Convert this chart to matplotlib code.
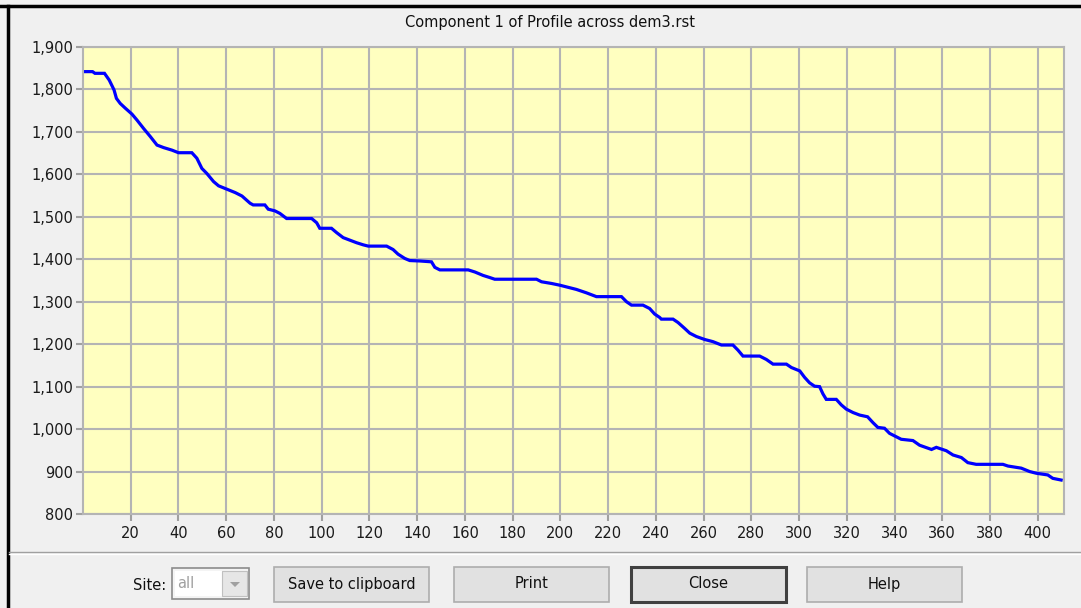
import numpy as np
import matplotlib.pyplot as plt
from matplotlib.patches import Rectangle, Polygon
from matplotlib.lines import Line2D
from matplotlib.ticker import FuncFormatter

plt.rcParams['font.family'] = ['DejaVu Sans']

# profile: distance along the profile / elevation
distance = [1, 4, 5, 9, 11, 13, 14, 15.6, 17.7, 20.5, 22.6, 25.4, 28.2, 31, 33.8,
            37.3, 40, 45.6, 47.7, 49.8, 51.9, 54.7, 56.8, 60.3, 63.8, 66.6, 70,
            71.3, 76.2, 77.6, 80.4, 82.5, 85.3, 95.8, 97.9, 99.2, 104.1, 106.2,
            109, 111.8, 114.6, 117.4, 119.5, 127.2, 129.9, 132, 134.8, 136.9,
            141.1, 146, 147.4, 149.5, 161.4, 164.2, 167.6, 170.4, 172.5, 190,
            192.1, 196.3, 199.7, 202.5, 206.7, 210.9, 212.3, 215.1, 225.6, 227.7,
            229.8, 234.6, 237.4, 239.5, 241.6, 242.3, 247.2, 249.3, 252.1, 254.2,
            257, 260.5, 263.9, 267.5, 272.3, 274.4, 276.5, 283.5, 286.3, 289.1,
            294.7, 296.8, 300.3, 302.3, 304.4, 306.5, 308.6, 310, 311.4, 315.6,
            317.7, 319.8, 322.6, 325.4, 328.7, 331, 333, 335.8, 337.9, 340,
            342.8, 347.7, 350.5, 354, 355.5, 357.5, 361.7, 364.5, 368, 370.7,
            374.2, 385.4, 387.5, 393.1, 396.6, 399.4, 404.2, 406.3, 409.8]
elevation = [1842, 1842, 1838, 1838, 1822, 1799, 1779, 1767, 1756, 1742, 1728, 1708,
             1689, 1669, 1663, 1657, 1651, 1651, 1638, 1614, 1602, 1583, 1573, 1565,
             1557, 1549, 1532, 1528, 1528, 1518, 1514, 1508, 1496, 1496, 1486, 1473,
             1473, 1463, 1451, 1445, 1439, 1434, 1431, 1431, 1423, 1412, 1402, 1397,
             1396, 1394, 1381, 1375, 1375, 1370, 1362, 1357, 1353, 1353, 1347, 1343,
             1339, 1335, 1329, 1321, 1318, 1312, 1312, 1300, 1292, 1292, 1284, 1271,
             1263, 1259, 1259, 1251, 1237, 1226, 1218, 1211, 1206, 1198, 1198, 1186,
             1172, 1172, 1164, 1153, 1153, 1145, 1137, 1122, 1109, 1101, 1100, 1083,
             1070, 1070, 1057, 1047, 1039, 1033, 1029, 1015, 1004, 1002, 990, 984,
             976, 973, 962, 955, 952, 957, 949, 939, 933, 921, 917, 917, 913, 908,
             900, 896, 892, 884, 880]
x_ticks = list(range(20, 401, 20))
y_ticks = list(range(800, 1901, 100))
title = 'Component 1 of Profile across dem3.rst'
buttons = ['Save to clipboard', 'Print', 'Close', 'Help']

W, H = 1081, 608
fig = plt.figure(figsize=(W / 100, H / 100), dpi=100, facecolor='#f0f0f0')


def fx(x):
    return x / W


def fy(y):
    return 1 - y / H


ax = fig.add_axes([fx(83), fy(514), fx(1064) - fx(83), fy(47) - fy(514)])
ax.set_facecolor('#ffffc0')
ax.plot(distance, elevation, color='#0000ff', lw=2.3, solid_joinstyle='miter')
ax.set_xlim(0, 411)
ax.set_ylim(800, 1900)
ax.set_xticks(x_ticks)
ax.set_yticks(y_ticks)
ax.yaxis.set_major_formatter(FuncFormatter(lambda v, p: f'{int(v):,}'))
ax.grid(True, color='#b4b4b4', lw=1.5)
ax.set_axisbelow(True)
for s in ax.spines.values():
    s.set_color('#b4b4b4')
    s.set_linewidth(1.5)
ax.tick_params(direction='out', length=5, width=1.5, color='#a0a0a0',
               labelsize=10.5, labelcolor='#1a1a1a')
ax.tick_params(axis='y', pad=2)
ax.tick_params(axis='x', pad=4)

fig.text(fx(550), fy(22), title, ha='center', va='center', fontsize=10.5, color='#101010')

# window frame and separator
fig.add_artist(Line2D([fx(0), fx(W)], [fy(6), fy(6)], color='black', lw=2.5))
fig.add_artist(Line2D([fx(8), fx(8)], [fy(6), fy(H)], color='black', lw=2.5))
fig.add_artist(Line2D([fx(9), fx(W)], [fy(552), fy(552)], color='#a0a0a0', lw=1))
fig.add_artist(Line2D([fx(9), fx(W)], [fy(553.5), fy(553.5)], color='white', lw=1))

# site combo box
fig.text(fx(150), fy(585), 'Site:', ha='center', va='center', fontsize=10.5, color='#101010')
fig.add_artist(Rectangle((fx(172), fy(599)), fx(77), fy(568) - fy(599),
                         facecolor='#f4f4f4', edgecolor='#8c8c8c', lw=1.2))
fig.add_artist(Rectangle((fx(175), fy(596)), fx(47), fy(571) - fy(596),
                         facecolor='white', edgecolor='none'))
fig.add_artist(Rectangle((fx(222), fy(596)), fx(25), fy(571) - fy(596),
                         facecolor='#e6e6e6', edgecolor='#c0c0c0', lw=0.8))
fig.add_artist(Polygon([[fx(230), fy(582)], [fx(240), fy(582)], [fx(235), fy(587)]],
                       closed=True, facecolor='#a0a0a0', edgecolor='none'))
fig.text(fx(177), fy(584), 'all', ha='left', va='center', fontsize=10.5, color='#a0a0a0')

# buttons
button_left = [274, 454, 631, 807]
for name, left in zip(buttons, button_left):
    default = name == 'Close'
    fig.add_artist(Rectangle((fx(left), fy(602)), fx(155), fy(567) - fy(602),
                             facecolor='#e1e1e1',
                             edgecolor='#404040' if default else '#adadad',
                             lw=2.2 if default else 1.2))
    fig.text(fx(left + 77.5), fy(584), name, ha='center', va='center',
             fontsize=10.5, color='#101010')

fig.savefig('out.png', dpi=100, facecolor=fig.get_facecolor())
